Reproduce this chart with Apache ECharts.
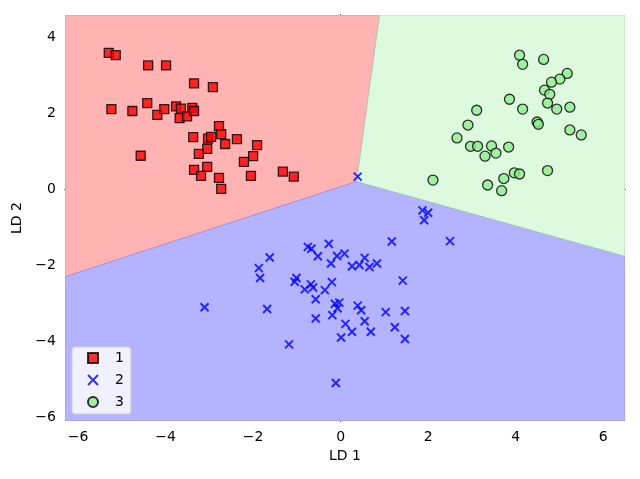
<!DOCTYPE html>
<html>
<head>
<meta charset="utf-8">
<script src="https://cdn.jsdelivr.net/npm/echarts@6/dist/echarts.min.js"></script>
<style>html,body{margin:0;padding:0;background:#fff}#c{width:640px;height:479px}</style>
</head>
<body>
<div id="c"></div>
<script>
// ---- data ----
const xTicks = [-6, -4, -2, 0, 2, 4, 6];
const yTicks = [-6, -4, -2, 0, 2, 4];
const xRange = [-6.3, 6.5];
const yRange = [-6.1, 4.6];
const classNames = ['1', '2', '3'];

const class1 = [
  [-5.30,3.60],[-5.14,3.54],[-4.40,3.27],[-3.99,3.27],[-3.35,2.80],[-2.92,2.70],
  [-5.24,2.12],[-4.76,2.07],[-4.42,2.28],[-4.19,1.97],[-4.03,2.12],[-3.76,2.19],
  [-3.65,2.13],[-3.39,2.15],[-3.68,1.88],[-3.51,1.93],[-3.35,2.07],[-2.78,1.67],
  [-2.73,1.46],[-3.37,1.38],[-3.03,1.34],[-2.96,1.39],[-2.64,1.20],[-2.37,1.33],
  [-1.91,1.17],[-3.05,1.07],[-3.24,0.94],[-2.00,0.88],[-2.21,0.73],[-3.35,0.52],
  [-3.05,0.60],[-3.19,0.36],[-2.78,0.31],[-2.05,0.36],[-2.73,0.02],[-4.57,0.89],
  [-1.32,0.47],[-1.07,0.34]
];
const class2 = [
  [-0.75,-1.51],[-0.67,-1.56],[-0.27,-1.43],[-0.52,-1.76],[-0.08,-1.75],[-0.22,-1.95],
  [-1.62,-1.79],[-1.87,-2.07],[-1.84,-2.33],[-1.01,-2.33],[-1.05,-2.43],[-0.82,-2.63],
  [-0.68,-2.50],[-0.63,-2.58],[-0.36,-2.65],[-0.20,-2.44],[-0.57,-2.89],[-0.13,-3.01],
  [-0.03,-2.98],[-0.07,-3.13],[-0.19,-3.31],[-3.11,-3.10],[-1.68,-3.15],[-0.57,-3.40],
  [1.87,-0.55],[2.00,-0.61],[1.91,-0.81],[1.17,-1.37],[2.50,-1.36],[0.09,-1.69],
  [0.26,-2.02],[0.43,-1.99],[0.55,-1.80],[0.66,-2.04],[0.83,-1.95],[1.42,-2.40],
  [0.39,-3.06],[0.47,-3.18],[1.03,-3.23],[1.47,-3.20],[0.11,-3.54],[0.55,-3.47],
  [0.26,-3.75],[0.69,-3.75],[0.01,-3.90],[1.24,-3.63],[1.47,-3.94],[-1.18,-4.08],
  [-0.11,-5.10],[0.39,0.34]
];
const class3 = [
  [4.09,3.54],[4.16,3.30],[3.86,2.38],[4.16,2.12],[3.11,2.09],[2.91,1.70],
  [2.66,1.36],[2.97,1.14],[3.13,1.14],[3.45,1.15],[3.30,0.88],[3.55,0.96],
  [3.84,1.12],[3.97,0.44],[4.09,0.41],[3.73,0.29],[3.36,0.12],[3.68,-0.03],
  [2.11,0.25],[4.64,3.43],[5.18,3.06],[5.01,2.91],[4.82,2.83],[4.66,2.62],
  [4.78,2.51],[4.73,2.28],[4.94,2.12],[5.24,2.17],[4.49,1.78],[4.52,1.72],
  [5.24,1.57],[5.50,1.44],[4.73,0.50]
];

// decision-region vertices (data coordinates)
const regionRed   = [[-6.3,4.6],[0.89,4.6],[0.365,0.21],[-6.3,-2.30]];
const regionGreen = [[0.89,4.6],[6.5,4.6],[6.5,-1.76],[0.365,0.21]];
const regionBlue  = [[-6.3,-2.30],[0.365,0.21],[6.5,-1.76],[6.5,-6.1],[-6.3,-6.1]];

// ---- chart ----
const regions = [regionRed, regionBlue, regionGreen];
const regionFill = ['#ffb3b3', '#b3b3ff', '#defade'];
const regionEdge = ['#e08a9a', '#9a8ae0', '#a0d0b0'];
const minus = v => String(v).replace('-', '\u2212');
const font = 'DejaVu Sans';

const chart = echarts.init(document.getElementById('c'), null, {renderer: 'canvas'});
chart.setOption({
  animation: false,
  backgroundColor: '#fff',
  grid: {left: 65, right: 15, top: 15, bottom: 58, containLabel: false},
  xAxis: [{
    type: 'value', min: xRange[0], max: xRange[1],
    name: 'LD 1', nameLocation: 'middle', nameGap: 28,
    nameTextStyle: {fontFamily: font, fontSize: 14, color: '#000'},
    axisLine: {show: true, lineStyle: {color: '#000', width: 1}},
    axisTick: {show: true, length: 5, inside: false, customValues: xTicks, lineStyle: {color: '#000'}},
    axisLabel: {customValues: xTicks, formatter: minus, margin: 9, fontFamily: font, fontSize: 14, color: '#000'},
    splitLine: {show: false}
  }, {
    type: 'value', position: 'top', min: xRange[0], max: xRange[1],
    axisLine: {show: true, lineStyle: {color: '#000', width: 1}},
    axisTick: {show: false}, axisLabel: {show: false}, splitLine: {show: false}
  }],
  yAxis: [{
    type: 'value', min: yRange[0], max: yRange[1],
    name: 'LD 2', nameLocation: 'middle', nameGap: 38, nameRotate: 90,
    nameTextStyle: {fontFamily: font, fontSize: 14, color: '#000'},
    axisLine: {show: true, lineStyle: {color: '#000', width: 1}},
    axisTick: {show: true, length: 5, inside: false, customValues: yTicks, lineStyle: {color: '#000'}},
    axisLabel: {customValues: yTicks, formatter: minus, margin: 9, fontFamily: font, fontSize: 14, color: '#000'},
    splitLine: {show: false}
  }, {
    type: 'value', position: 'right', min: yRange[0], max: yRange[1],
    axisLine: {show: true, lineStyle: {color: '#000', width: 1}},
    axisTick: {show: false}, axisLabel: {show: false}, splitLine: {show: false}
  }],
  legend: {
    data: classNames, orient: 'vertical', left: 72, top: 347,
    itemWidth: 10, itemHeight: 10, itemGap: 6,
    padding: [3, 7, 4, 15],
    backgroundColor: 'rgba(255,255,255,0.8)', borderColor: '#d0d0d0', borderWidth: 1, borderRadius: 3,
    textStyle: {fontFamily: font, fontSize: 14, color: '#000', lineHeight: 16, padding: [0, 0, 0, 12]}
  },
  series: [
    {
      type: 'custom', silent: true, clip: true, z: 1,
      xAxisIndex: 0, yAxisIndex: 0,
      data: regions.map((r, i) => [i]),
      renderItem: function (params, api) {
        const i = params.dataIndex;
        const pts = regions[i].map(p => api.coord(p));
        return {type: 'polygon', shape: {points: pts},
          style: {fill: regionFill[i], stroke: regionEdge[i], lineWidth: 0.8}};
      }
    },
    {
      name: classNames[0], type: 'scatter', z: 3, data: class1,
      symbol: 'rect', symbolSize: 9,
      itemStyle: {color: 'rgba(255,0,0,0.8)', borderColor: 'rgba(0,0,0,0.8)', borderWidth: 1.3, opacity: 1}
    },
    {
      name: classNames[1], type: 'scatter', z: 3, data: class2,
      symbol: 'path://M0,0L10,10M10,0L0,10', symbolSize: 8,
      itemStyle: {color: 'rgba(0,0,255,0.8)', borderColor: 'rgba(0,0,255,0.8)', borderWidth: 2, opacity: 1}
    },
    {
      name: classNames[2], type: 'scatter', z: 3, data: class3,
      symbol: 'circle', symbolSize: 10,
      itemStyle: {color: 'rgba(144,238,144,0.8)', borderColor: 'rgba(0,0,0,0.8)', borderWidth: 1.3, opacity: 1}
    }
  ]
});
</script>
</body>
</html>
